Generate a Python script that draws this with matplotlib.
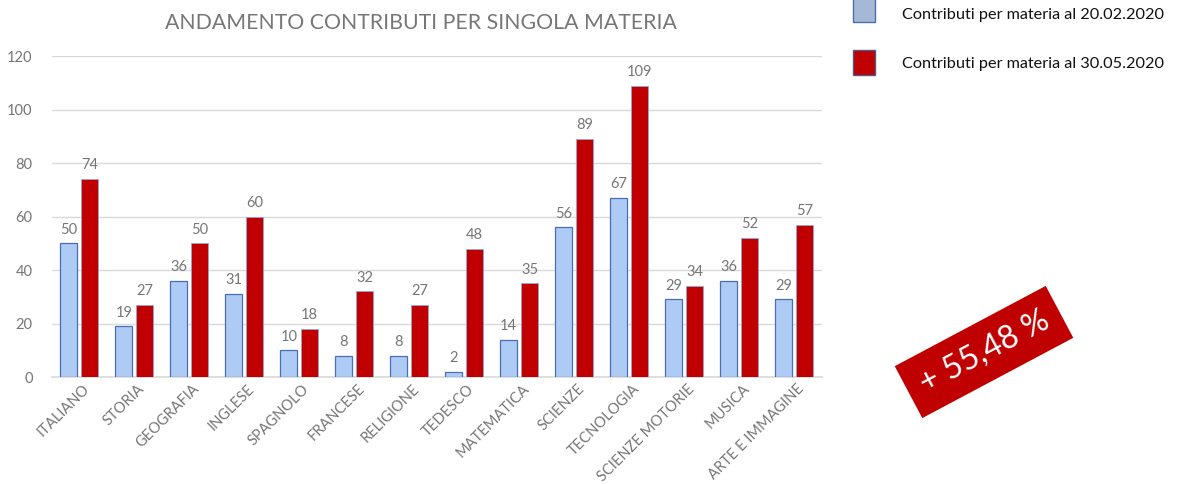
import numpy as np
import matplotlib.pyplot as plt
from matplotlib.patches import Rectangle

plt.rcParams['font.family'] = ['Lato', 'DejaVu Sans']

materie = ["ITALIANO", "STORIA", "GEOGRAFIA", "INGLESE", "SPAGNOLO", "FRANCESE",
           "RELIGIONE", "TEDESCO", "MATEMATICA", "SCIENZE", "TECNOLOGIA",
           "SCIENZE MOTORIE", "MUSICA", "ARTE E IMMAGINE"]
contributi_feb = [50, 19, 36, 31, 10, 8, 8, 2, 14, 56, 67, 29, 36, 29]
contributi_mag = [74, 27, 50, 60, 18, 32, 27, 48, 35, 89, 109, 34, 52, 57]
label_feb = "Contributi per materia al 20.02.2020"
label_mag = "Contributi per materia al 30.05.2020"
incremento = "+ 55,48 %"

GRAY = "#767676"
BLUE = "#aecbf6"
BLUE_EDGE = "#4a6db3"
RED = "#c00000"

fig = plt.figure(figsize=(11.88, 4.84), dpi=100)
ax = fig.add_axes([0.0438, 0.221, 0.648, 0.663])

x = np.arange(len(materie))
w = 0.31
b1 = ax.bar(x - 0.195, contributi_feb, w, color=BLUE, edgecolor=BLUE_EDGE, linewidth=0.9, zorder=3)
b2 = ax.bar(x + 0.185, contributi_mag, w, color=RED, edgecolor="#8fa8d8", linewidth=0.6, zorder=3)
for bars in (b1, b2):
    for r in bars:
        ax.text(r.get_x() + r.get_width() / 2, r.get_height() + 2.5, f"{int(r.get_height())}",
                ha="center", va="bottom", color=GRAY, fontsize=10.5)

ax.set_xlim(-0.5, len(materie) - 0.5)
ax.set_ylim(0, 120)
ax.set_yticks(range(0, 121, 20))
ax.yaxis.grid(True, color="#d9d9d9", linewidth=1, zorder=0)
for s in ("top", "right", "left"):
    ax.spines[s].set_visible(False)
ax.spines["bottom"].set_color("#d9d9d9")
ax.spines["bottom"].set_linewidth(1.2)
ax.tick_params(axis="both", length=0, colors=GRAY, labelsize=10.5)
ax.tick_params(axis="y", pad=14)
ax.set_xticks(x + 0.05)
ax.set_xticklabels(materie, rotation=45, ha="right", rotation_mode="anchor", fontsize=10.5)

fig.text(0.354, 0.952, "ANDAMENTO CONTRIBUTI PER SINGOLA MATERIA", ha="center", va="center",
         color=GRAY, fontsize=15.3)

# legend drawn by hand
fig.patches.append(Rectangle((853 / 1188, 1 - 22 / 484), 22 / 1188, 26 / 484, transform=fig.transFigure,
                             facecolor="#a5b9d6", edgecolor="#4a6db3", linewidth=1))
fig.patches.append(Rectangle((853 / 1188, 1 - 75 / 484), 22 / 1188, 25 / 484, transform=fig.transFigure,
                             facecolor=RED, edgecolor="#4a5a8a", linewidth=1))
fig.text(902 / 1188, 1 - 15 / 484, label_feb, va="center", fontsize=11.7, color="#111111")
fig.text(902 / 1188, 1 - 64 / 484, label_mag, va="center", fontsize=11.7, color="#111111")

fig.text(984 / 1188, 1 - 352 / 484, incremento, rotation=28, ha="center", va="center",
         color="white", fontsize=23, rotation_mode="anchor",
         bbox=dict(boxstyle="square,pad=0.45", facecolor=RED, edgecolor="none"))

fig.savefig("out.png", dpi=100)
